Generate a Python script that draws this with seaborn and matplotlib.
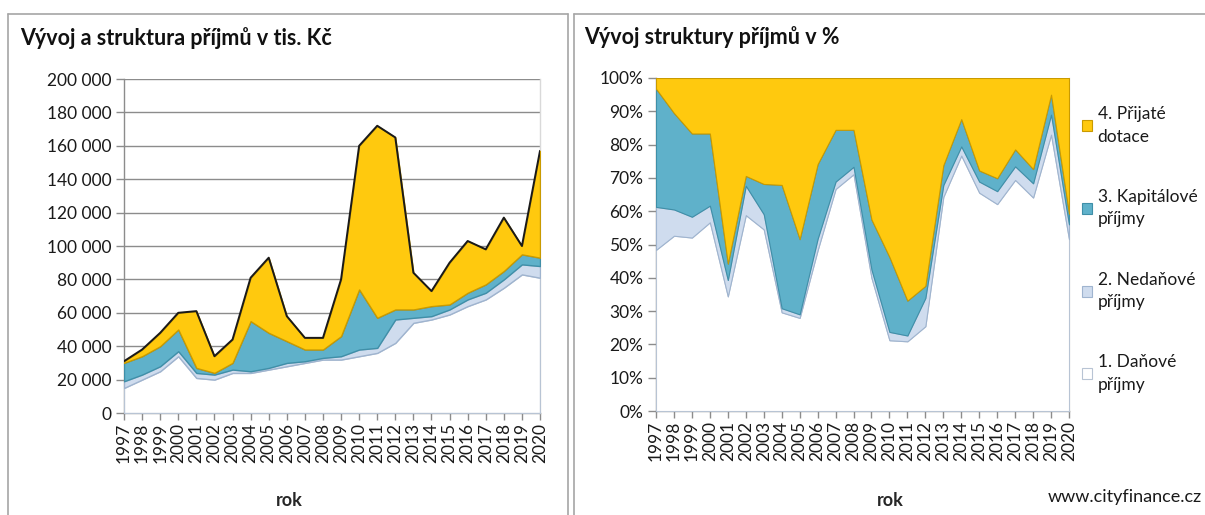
import matplotlib.pyplot as plt
import numpy as np
import pandas as pd
import seaborn as sns
from matplotlib.lines import Line2D
from matplotlib.patches import Patch
from matplotlib.ticker import FuncFormatter, MultipleLocator

sns.set_theme(style="white")
plt.rcParams["font.family"] = ["Lato", "DejaVu Sans"]

# příjmy obce v tis. Kč, 1997-2020
years = list(range(1997, 2021))
danove = [15000, 20000, 25000, 34000, 21000, 20000, 24000, 24000, 26000, 28000, 30000, 32000,
          32000, 34000, 36000, 42000, 54000, 56000, 59000, 64000, 68000, 75000, 83000, 81000]
nedanove = [4000, 3000, 3000, 3000, 3000, 3000, 2000, 1000, 1000, 2000, 1000, 1000,
            2000, 4000, 3000, 14000, 3000, 2000, 3000, 4000, 4000, 5000, 6000, 7000]
kapitalove = [11000, 11000, 12000, 13000, 3000, 1000, 4000, 30000, 21000, 13000, 7000, 5000,
              12000, 36000, 18000, 6000, 5000, 6000, 3000, 4000, 5000, 5000, 6000, 5000]
dotace = [1000, 4000, 8000, 10000, 34000, 10000, 14000, 26000, 45000, 15000, 7000, 7000,
          34000, 86000, 115000, 103000, 22000, 9000, 25000, 31000, 21000, 32000, 5000, 64000]

series_names = ["1. Daňové\npříjmy", "2. Nedaňové\npříjmy", "3. Kapitálové\npříjmy", "4. Přijaté\ndotace"]
colors = ["#ffffff", "#cfdcee", "#5fb1ca", "#ffc90e"]
edges = ["#b8c4d4", "#9fb4cf", "#3f8fa8", "#c99a00"]

df = pd.DataFrame({"rok": years, "dan": danove, "ned": nedanove, "kap": kapitalove, "dot": dotace}).set_index("rok")
total = df.sum(axis=1)
shares = df.div(total, axis=0) * 100

W, H = 1205, 515
fig = plt.figure(figsize=(W / 100, H / 100), dpi=100)
frame = "#a6a6a6"
# panel frames
fig.add_artist(Line2D([8 / W, 8 / W], [0, 1 - 14 / H], color=frame, lw=1.2))
fig.add_artist(Line2D([8 / W, 568 / W], [1 - 14 / H, 1 - 14 / H], color=frame, lw=1.2))
fig.add_artist(Line2D([568 / W, 568 / W], [0, 1 - 14 / H], color=frame, lw=1.2))
fig.add_artist(Line2D([574 / W, 574 / W], [0, 1 - 14 / H], color=frame, lw=1.2))
fig.add_artist(Line2D([574 / W, 1], [1 - 14 / H, 1 - 14 / H], color=frame, lw=1.2))

ax1 = fig.add_axes([124 / W, 1 - 413 / H, 416 / W, 334 / H])
ax2 = fig.add_axes([656 / W, 1 - 411 / H, 413 / W, 333 / H])

x = np.array(years)

# --- levý graf: absolutní hodnoty ---
polys = ax1.stackplot(x, df["dan"], df["ned"], df["kap"], df["dot"], colors=colors, zorder=3)
for p, ec in zip(polys, edges):
    p.set_edgecolor(ec)
    p.set_linewidth(1.0)
sns.lineplot(x=x, y=total.values, color="#1a1a1a", lw=1.4, ax=ax1, zorder=4)
ax1.set_xlim(1997, 2020)
ax1.set_ylim(0, 200000)
ax1.yaxis.set_major_locator(MultipleLocator(20000))
ax1.yaxis.set_major_formatter(FuncFormatter(lambda v, _: f"{int(v):,}".replace(",", " ")))
ax1.grid(axis="y", color="#8c8c8c", lw=1.0, zorder=0)
ax1.set_axisbelow(True)

# --- pravý graf: struktura v % ---
polys2 = ax2.stackplot(x, shares["dan"], shares["ned"], shares["kap"], shares["dot"], colors=colors, zorder=3)
for p, ec in zip(polys2, edges):
    p.set_edgecolor(ec)
    p.set_linewidth(0.8)
ax2.set_xlim(1997, 2020)
ax2.set_ylim(0, 100)
ax2.yaxis.set_major_locator(MultipleLocator(10))
ax2.yaxis.set_major_formatter(FuncFormatter(lambda v, _: f"{int(v)}%"))

for ax in (ax1, ax2):
    ax.set_xticks(years)
    ax.set_xticklabels([str(y) for y in years], rotation=90, fontsize=12.5, color="#1a1a1a")
    ax.tick_params(axis="y", labelsize=12.5, labelcolor="#1a1a1a", length=6, width=1, color="#8c8c8c",
                   left=True, pad=3)
    ax.tick_params(axis="x", length=5, width=1, color="#8c8c8c", bottom=True, pad=2)
    ax.spines["top"].set_visible(False)
    for side in ("left", "bottom", "right"):
        ax.spines[side].set_color("#8c8c8c")
        ax.spines[side].set_linewidth(1.0)
    ax.spines["right"].set_color("#d9d9d9")
    ax.set_xlabel("")
    ax.set_ylabel("")

fig.text(20 / W, 1 - 38 / H, "Vývoj a struktura příjmů v tis. Kč", fontsize=15.5, fontweight="bold",
         ha="left", va="center", color="#111111")
fig.text(584 / W, 1 - 37 / H, "Vývoj struktury příjmů v %", fontsize=15.5, fontweight="bold",
         ha="left", va="center", color="#111111")
fig.text(289 / W, 1 - 501 / H, "rok", fontsize=13, fontweight="bold", ha="center", va="center")
fig.text(890 / W, 1 - 501 / H, "rok", fontsize=13, fontweight="bold", ha="center", va="center")
fig.text(1048 / W, 1 - 497 / H, "www.cityfinance.cz", fontsize=13, ha="left", va="center", color="#1a1a1a")

# legenda
handles = [Patch(facecolor=c, edgecolor=e, lw=0.8) for c, e in zip(colors, edges)][::-1]
leg = fig.legend(handles, series_names[::-1], loc="upper left", bbox_to_anchor=(1082 / W, 1 - 106 / H),
                 frameon=False, fontsize=12.5, handlelength=0.6, handleheight=0.6, handletextpad=0.3,
                 labelspacing=2.55, borderpad=0, borderaxespad=0)
for t in leg.get_texts():
    t.set_linespacing(1.5)
    t.set_color("#1a1a1a")

fig.savefig("out.png", dpi=100, facecolor="white")
